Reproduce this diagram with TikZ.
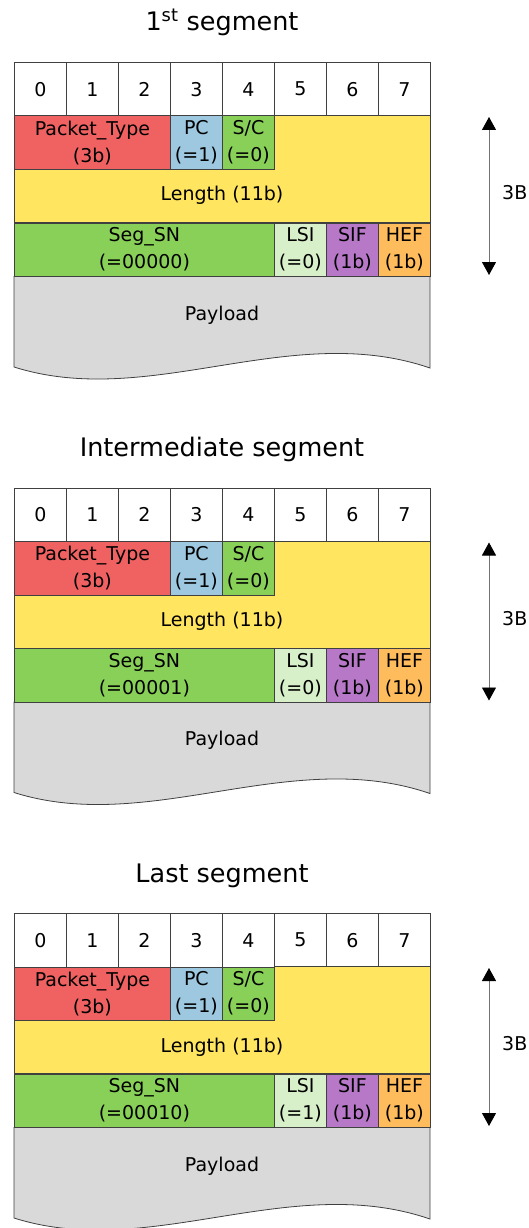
\documentclass[tikz,border=0pt]{standalone}
\usepackage{fontspec}
\setmainfont{DejaVu Sans}
\usetikzlibrary{arrows.meta}

\definecolor{ptred}{RGB}{240,98,98}
\definecolor{pcblue}{RGB}{157,200,224}
\definecolor{scgreen}{RGB}{136,208,88}
\definecolor{lenyellow}{RGB}{255,229,96}
\definecolor{lsigreen}{RGB}{216,240,202}
\definecolor{sifpurple}{RGB}{184,120,200}
\definecolor{heforange}{RGB}{255,188,92}
\definecolor{plgray}{RGB}{217,217,217}
\definecolor{edgegray}{RGB}{64,64,64}

\newcommand{\bodyfont}{\fontsize{19}{27}\selectfont}
\newcommand{\titlefont}{\fontsize{25.5}{30}\selectfont}

\begin{document}
\begin{tikzpicture}[x=1pt, y=-1pt,
    field/.style={draw=edgegray, line width=0.8pt, rectangle, anchor=north west,
      minimum width=52pt, minimum height=53.5pt, inner sep=0pt,
      align=center, font=\bodyfont},
    label/.style={inner sep=0pt, font=\bodyfont},
    segtitle/.style={inner sep=0pt, anchor=base, font=\titlefont},
    span/.style={draw=black!55, line width=0.9pt,
      {Triangle[width=14pt,length=13pt,color=black]}-{Triangle[width=14pt,length=13pt,color=black]}}]
  \useasboundingbox (0,0) rectangle (529,1228);

  \foreach \s/\ttl/\sn/\lsi in {0/{1\textsuperscript{st} segment}/00000/0,
                               1/{Intermediate segment}/00001/0,
                               2/{Last segment}/00010/1} {
    \pgfmathsetmacro{\top}{62+425.5*\s}
    \begin{scope}[shift={(0,\top)}]
      \node[segtitle] (ttl\s) at (222,-31) {\ttl};

      % bit numbers
      \foreach \b in {0,...,7}
        \node[field, fill=white] (bit\s-\b) at (14+52*\b,0) {\b};

      % payload and the yellow length area
      \draw[edgegray, line width=0.8pt, fill=plgray]
        (14,214) -- (14,305) .. controls (150,348) and (290,258) .. (430,306) -- (430,214);
      \node[label] (pl\s) at (222,253) {Payload};
      \draw[edgegray, line width=0.8pt, fill=lenyellow]
        (274,53.5) -- (430,53.5) -- (430,160.5) -- (14,160.5) -- (14,107) -- (274,107) -- cycle;
      \node[label] (len\s) at (222,133.75) {Length (11b)};

      % first row
      \node[field, fill=ptred, minimum width=156pt] (pt\s) at (14,53.5) {Packet\_Type\\(3b)};
      \node[field, fill=pcblue] (pc\s) at (170,53.5) {PC\\(=1)};
      \node[field, fill=scgreen] (sc\s) at (222,53.5) {S/C\\(=0)};

      % third row
      \node[field, fill=scgreen, minimum width=260pt] (sn\s) at (14,160.5) {Seg\_SN\\(=\sn)};
      \node[field, fill=lsigreen] (lsi\s) at (274,160.5) {LSI\\(=\lsi)};
      \node[field, fill=sifpurple] (sif\s) at (326,160.5) {SIF\\(1b)};
      \node[field, fill=heforange] (hef\s) at (378,160.5) {HEF\\(1b)};

      % header size
      \coordinate (up\s) at (489,55);
      \coordinate (dn\s) at (489,213);
      \draw[span] (up\s) -- (dn\s);
      \node[label, anchor=west] (sz\s) at (502,131) {3B};
    \end{scope}
  }
\end{tikzpicture}
\end{document}
